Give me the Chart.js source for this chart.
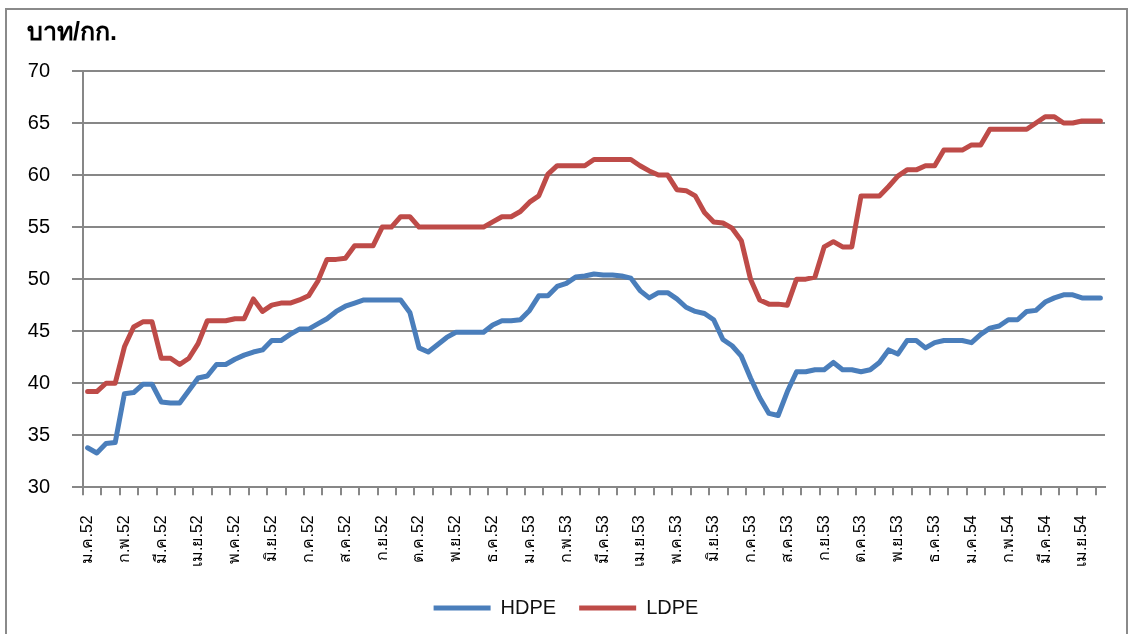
<!DOCTYPE html>
<html>
<head>
<meta charset="utf-8">
<script src="https://cdn.jsdelivr.net/npm/chart.js@4.4.0/dist/chart.umd.min.js"></script>
<style>
  html, body { margin: 0; padding: 0; background: #fff; }
  #wrap { position: relative; width: 1134px; height: 634px; overflow: hidden; }
  #frame { position: absolute; left: 5px; top: 8px; width: 1123px; height: 640px; border: 2px solid #8a8a8a; box-sizing: border-box; }
  canvas { position: absolute; left: 0; top: 0; }
</style>
</head>
<body>
<div id="wrap">
  <div id="frame"></div>
  <canvas id="c" width="1134" height="634"></canvas>
</div>
<script>
// Tick labels (one per month, each month = 4 weekly points)
const monthLabels = [
  'ม.ค.52','ก.พ.52','มี.ค.52','เม.ย.52','พ.ค.52','มิ.ย.52','ก.ค.52','ส.ค.52','ก.ย.52','ต.ค.52','พ.ย.52','ธ.ค.52',
  'ม.ค.53','ก.พ.53','มี.ค.53','เม.ย.53','พ.ค.53','มิ.ย.53','ก.ค.53','ส.ค.53','ก.ย.53','ต.ค.53','พ.ย.53','ธ.ค.53',
  'ม.ค.54','ก.พ.54','มี.ค.54','เม.ย.54'
];
const pointsPerMonth = 4;

// HDPE price (baht/kg), weekly
const hdpe = [
  33.8, 33.3, 34.2, 34.3, 39.0, 39.1, 39.9, 39.9, 38.2, 38.1,
  38.1, 39.3, 40.5, 40.7, 41.8, 41.8, 42.3, 42.7, 43.0, 43.2,
  44.1, 44.1, 44.7, 45.2, 45.2, 45.7, 46.2, 46.9, 47.4, 47.7,
  48.0, 48.0, 48.0, 48.0, 48.0, 46.8, 43.4, 43.0, 43.7, 44.4,
  44.9, 44.9, 44.9, 44.9, 45.6, 46.0, 46.0, 46.1, 47.0, 48.4,
  48.4, 49.3, 49.6, 50.2, 50.3, 50.5, 50.4, 50.4, 50.3, 50.1,
  48.9, 48.2, 48.7, 48.7, 48.1, 47.3, 46.9, 46.7, 46.1, 44.2,
  43.6, 42.6, 40.5, 38.6, 37.1, 36.9, 39.2, 41.1, 41.1, 41.3,
  41.3, 42.0, 41.3, 41.3, 41.1, 41.3, 42.0, 43.2, 42.8, 44.1,
  44.1, 43.4, 43.9, 44.1, 44.1, 44.1, 43.9, 44.7, 45.3, 45.5,
  46.1, 46.1, 46.9, 47.0, 47.8, 48.2, 48.5, 48.5, 48.2, 48.2,
  48.2
];

// LDPE price (baht/kg), weekly
const ldpe = [
  39.2, 39.2, 40.0, 40.0, 43.5, 45.4, 45.9, 45.9, 42.4, 42.4,
  41.8, 42.4, 43.8, 46.0, 46.0, 46.0, 46.2, 46.2, 48.1, 46.9,
  47.5, 47.7, 47.7, 48.0, 48.4, 49.8, 51.9, 51.9, 52.0, 53.2,
  53.2, 53.2, 55.0, 55.0, 56.0, 56.0, 55.0, 55.0, 55.0, 55.0,
  55.0, 55.0, 55.0, 55.0, 55.5, 56.0, 56.0, 56.5, 57.4, 58.0,
  60.1, 60.9, 60.9, 60.9, 60.9, 61.5, 61.5, 61.5, 61.5, 61.5,
  60.9, 60.4, 60.0, 60.0, 58.6, 58.5, 58.0, 56.4, 55.5, 55.4,
  54.9, 53.7, 50.0, 48.0, 47.6, 47.6, 47.5, 50.0, 50.0, 50.2,
  53.1, 53.6, 53.1, 53.1, 58.0, 58.0, 58.0, 58.9, 59.9, 60.5,
  60.5, 60.9, 60.9, 62.4, 62.4, 62.4, 62.9, 62.9, 64.4, 64.4,
  64.4, 64.4, 64.4, 65.0, 65.6, 65.6, 65.0, 65.0, 65.2, 65.2,
  65.2
];

const yTicks = [30, 35, 40, 45, 50, 55, 60, 65, 70];

const categories = hdpe.map((_, i) => monthLabels[Math.floor(i / pointsPerMonth)]);

const FONT = "'Liberation Sans', Arial, 'Noto Sans', sans-serif";
const GRID = '#878787';

new Chart(document.getElementById('c'), {
  type: 'line',
  data: {
    labels: categories,
    datasets: [
      { label: 'HDPE', data: hdpe, borderColor: '#4a7ebb', backgroundColor: '#4a7ebb',
        borderWidth: 5, pointRadius: 0, tension: 0, borderJoinStyle: 'round', borderCapStyle: 'round', pointStyle: 'line' },
      { label: 'LDPE', data: ldpe, borderColor: '#be4b48', backgroundColor: '#be4b48',
        borderWidth: 5, pointRadius: 0, tension: 0, borderJoinStyle: 'round', borderCapStyle: 'round', pointStyle: 'line' }
    ]
  },
  options: {
    responsive: false,
    animation: false,
    layout: { padding: { left: 27, right: 29, top: 18, bottom: 6 } },
    plugins: {
      title: {
        display: true, text: 'บาท/กก.', align: 'start', color: '#000',
        font: { family: FONT, size: 25, weight: 'bold' },
        padding: { top: 0, bottom: 23 }
      },
      legend: {
        position: 'bottom',
        labels: {
          usePointStyle: true, pointStyleWidth: 57, boxHeight: 5,
          color: '#111', font: { family: FONT, size: 20 }, padding: 23
        }
      },
      tooltip: { enabled: false }
    },
    scales: {
      x: {
        offset: true,
        afterFit: (s) => { s.height -= 12; s.paddingLeft = 0; s.paddingRight = 0; },
        grid: {
          offset: true, drawOnChartArea: false, drawTicks: true, tickLength: 8, lineWidth: 2,
          tickColor: (c) => (c.index !== undefined && c.index % 2 === 0 && c.index < categories.length) ? GRID : 'rgba(0,0,0,0)'
        },
        border: { display: true, color: GRID, width: 2 },
        ticks: {
          autoSkip: false, minRotation: 90, maxRotation: 90, padding: 20,
          color: '#000', font: { family: FONT, size: 16 },
          callback: function (v, i) { return i % pointsPerMonth === 0 ? categories[i] : ''; }
        }
      },
      y: {
        min: 30, max: 70,
        afterFit: (s) => { s.width = 56; },
        afterBuildTicks: (s) => { s.ticks = yTicks.map(v => ({ value: v })); },
        grid: { color: GRID, lineWidth: 2, tickLength: 11, drawTicks: true },
        border: { display: true, color: GRID, width: 2 },
        ticks: { padding: 22, color: '#000', font: { family: FONT, size: 20 } }
      }
    }
  }
});
</script>
</body>
</html>
